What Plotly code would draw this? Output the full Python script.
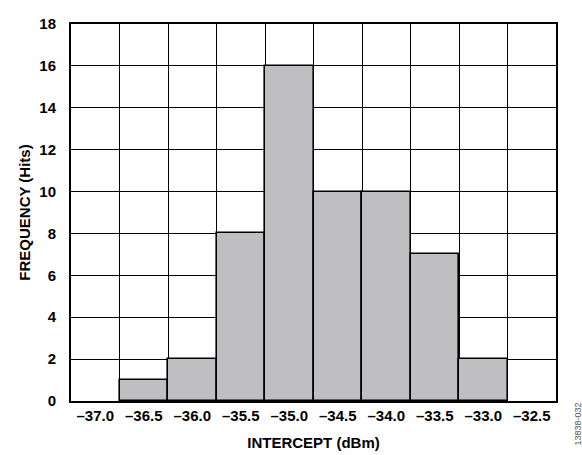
import plotly.graph_objects as go

# Histogram of intercept measurements (bins of 0.5 dBm)
bin_labels = ["–37.0", "–36.5", "–36.0", "–35.5", "–35.0",
              "–34.5", "–34.0", "–33.5", "–33.0", "–32.5"]
hits = [0, 1, 2, 8, 16, 10, 10, 7, 2, 0]
y_ticks = [0, 2, 4, 6, 8, 10, 12, 14, 16, 18]

FONT = "Arial, 'Liberation Sans', Helvetica, sans-serif"
positions = list(range(len(bin_labels)))

# empty bins get no outline so the bottom axis line stays clean
outline_widths = [1.6 if h > 0 else 0 for h in hits]

fig = go.Figure(
    go.Bar(
        x=positions,
        y=hits,
        width=1.0,
        marker=dict(color="#bfbfc1", line=dict(color="black", width=outline_widths)),
        hoverinfo="y",
    )
)

fig.update_layout(
    width=582,
    height=455,
    margin=dict(l=71, r=26, t=24, b=54, autoexpand=False),
    paper_bgcolor="white",
    plot_bgcolor="white",
    showlegend=False,
    bargap=0,
    font=dict(family=FONT, color="black"),
)

fig.update_xaxes(
    range=[-0.5, len(bin_labels) - 0.5],
    tickvals=positions,
    ticktext=[f"<b>{t}</b>" for t in bin_labels],
    tickfont=dict(size=15, family=FONT, color="black"),
    showgrid=False,
    minor=dict(tick0=0.5, dtick=1, showgrid=True, gridcolor="black", gridwidth=1, ticks=""),
    ticks="",
    ticklabelstandoff=0,
    automargin=False,
    showline=True,
    linecolor="black",
    linewidth=2,
    mirror=True,
    zeroline=False,
    title=dict(text="<b>INTERCEPT (dBm)</b>", font=dict(size=15, family=FONT), standoff=14),
)

fig.update_yaxes(
    range=[0, 18],
    tickvals=y_ticks,
    ticktext=[f"<b>{v}</b>" for v in y_ticks],
    tickfont=dict(size=15, family=FONT, color="black"),
    showgrid=True,
    gridcolor="black",
    gridwidth=1,
    ticks="",
    ticklabelstandoff=10,
    automargin=False,
    showline=True,
    linecolor="black",
    linewidth=2,
    mirror=True,
    zeroline=False,
    title=dict(text="<b>FREQUENCY (Hits)</b>", font=dict(size=15, family=FONT), standoff=5),
)

fig.add_annotation(
    text="13838-032",
    textangle=-90,
    xref="paper", yref="paper",
    x=1.0, y=0.0,
    xanchor="left", yanchor="top",
    xshift=14,
    showarrow=False,
    font=dict(size=9, family=FONT, color="#555555"),
)

fig.write_html("out.html")
